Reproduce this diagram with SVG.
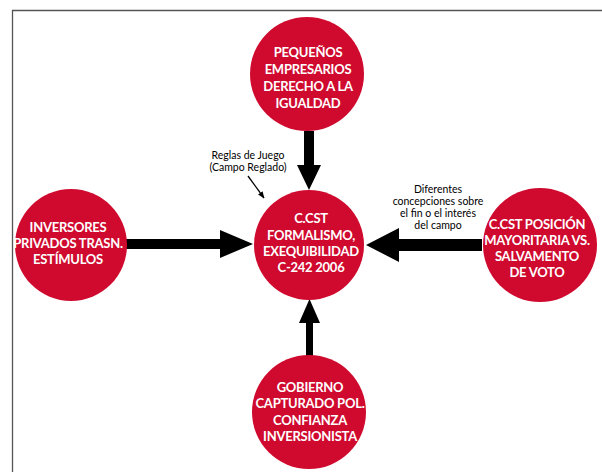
<svg xmlns="http://www.w3.org/2000/svg" width="602" height="472" viewBox="0 0 602 472">
<style>
.node circle{fill:#cf0a2e}
.nt{font-family:Lato,"Liberation Sans",sans-serif;font-weight:bold;font-size:13px;letter-spacing:-0.25px;fill:#fff;text-anchor:middle}
.lbl{font-family:Lato,"Liberation Sans",sans-serif;font-size:10.5px;fill:#000;text-anchor:middle}
.arr{fill:#000}
</style>
<defs>
<marker id="ah" viewBox="0 0 10 10" refX="9" refY="5" markerWidth="7" markerHeight="7" orient="auto" markerUnits="userSpaceOnUse">
<path d="M0,1 L10,5 L0,9 z" fill="#000"/>
</marker>
</defs>
<rect width="602" height="472" fill="#fff"/>
<path d="M12.5,472 V10.5 H602" fill="none" stroke="#555" stroke-width="1.3"/>
<g id="connectors">
<polygon class="arr" points="304,131 314,131 314,165 321,165 309,190 297,165 304,165"/>
<polygon class="arr" points="126,239 220,239 220,230 253,244 220,258 220,249 126,249"/>
<polygon class="arr" points="482,239 399,239 399,228 366,245 399,262 399,251 482,251"/>
<polygon class="arr" points="306,356 313,356 313,323 320,323 309.5,299 299,323 306,323"/>
<line x1="248" y1="176" x2="264" y2="198" stroke="#000" stroke-width="1.3" marker-end="url(#ah)"/>
</g>
<g id="label-reglas">
<text class="lbl" x="248" y="159">Reglas de Juego</text>
<text class="lbl" x="248" y="171">(Campo Reglado)</text>
</g>
<g id="label-diferentes">
<text class="lbl" x="438" y="193">Diferentes</text>
<text class="lbl" x="438" y="205">concepciones sobre</text>
<text class="lbl" x="438" y="217">el fin o el interés</text>
<text class="lbl" x="438" y="229">del campo</text>
</g>
<g id="node-top" class="node">
<circle cx="307" cy="74" r="57"/>
<text class="nt" x="308" y="57">PEQUEÑOS</text>
<text class="nt" x="308" y="74">EMPRESARIOS</text>
<text class="nt" x="308" y="91">DERECHO A LA</text>
<text class="nt" x="308" y="108">IGUALDAD</text>
</g>
<g id="node-center" class="node">
<circle cx="309" cy="245" r="55"/>
<text class="nt" x="311" y="223">C.CST</text>
<text class="nt" x="311" y="240">FORMALISMO,</text>
<text class="nt" x="311" y="256">EXEQUIBILIDAD</text>
<text class="nt" x="311" y="272">C-242 2006</text>
</g>
<g id="node-left" class="node">
<circle cx="71" cy="245" r="56"/>
<text class="nt" x="68" y="232">INVERSORES</text>
<text class="nt" x="68" y="248">PRIVADOS TRASN.</text>
<text class="nt" x="68" y="264">ESTÍMULOS</text>
</g>
<g id="node-right" class="node">
<circle cx="540" cy="245" r="57"/>
<text class="nt" x="537" y="229">C.CST POSICIÓN</text>
<text class="nt" x="537" y="245">MAYORITARIA VS.</text>
<text class="nt" x="537" y="261">SALVAMENTO</text>
<text class="nt" x="537" y="277">DE VOTO</text>
</g>
<g id="node-bottom" class="node">
<circle cx="309" cy="412" r="57"/>
<text class="nt" x="310" y="392">GOBIERNO</text>
<text class="nt" x="310" y="408">CAPTURADO POL.</text>
<text class="nt" x="310" y="425">CONFIANZA</text>
<text class="nt" x="310" y="441">INVERSIONISTA</text>
</g>
</svg>
